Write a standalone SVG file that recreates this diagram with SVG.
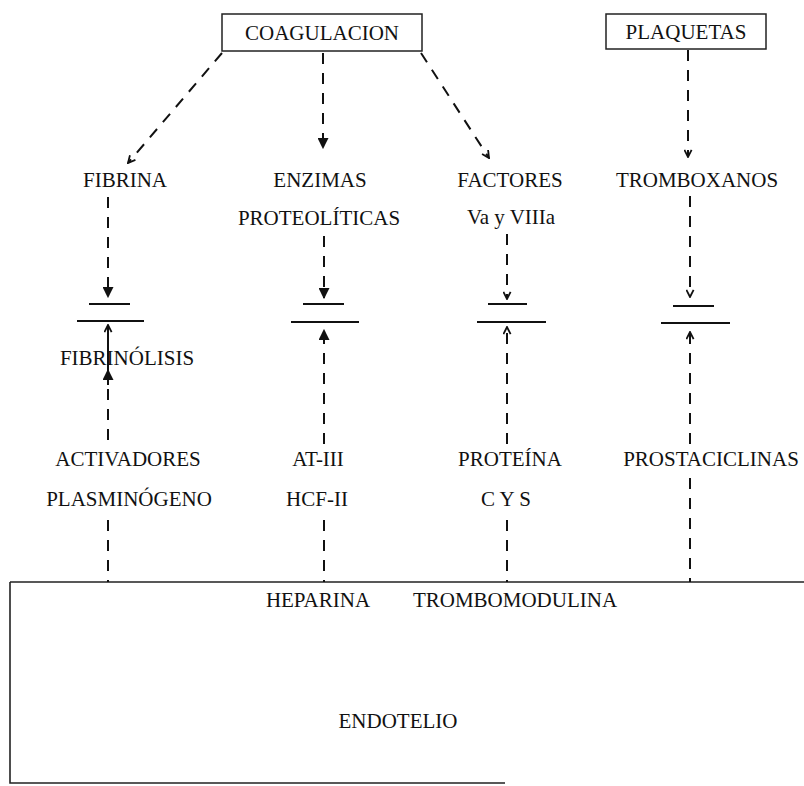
<svg xmlns="http://www.w3.org/2000/svg" width="804" height="786" viewBox="0 0 804 786">
<defs>
<style>
text{font-family:"Liberation Serif","Times New Roman",serif;font-size:21px;fill:#111;text-anchor:middle;}
.box{fill:none;stroke:#222;stroke-width:1.5;}
.dash{fill:none;stroke:#111;stroke-width:2;stroke-dasharray:11 9;}
.solid{fill:none;stroke:#111;stroke-width:2;}
.bar{fill:none;stroke:#111;stroke-width:2.2;}
.edge{fill:none;stroke:#222;stroke-width:1.6;}
</style>
<marker id="open" viewBox="0 0 10 10" refX="9" refY="5" markerWidth="9" markerHeight="9" markerUnits="userSpaceOnUse" orient="auto">
<polyline points="1,1 9,5 1,9" fill="none" stroke="#111" stroke-width="2"/>
</marker>
<marker id="fill" viewBox="0 0 10 10" refX="9" refY="5" markerWidth="11" markerHeight="11" markerUnits="userSpaceOnUse" orient="auto">
<path d="M0,0 L10,5 L0,10 z" fill="#111"/>
</marker>
</defs>
<rect width="804" height="786" fill="#fff"/>

<g id="coagulacion"><rect class="box" x="222" y="14" width="200" height="37"/><text x="322" y="40">COAGULACION</text></g>
<g id="plaquetas"><rect class="box" x="606" y="14" width="160" height="35"/><text x="686" y="39">PLAQUETAS</text></g>

<g id="fibrina"><text x="125" y="187">FIBRINA</text></g>
<g id="enzimas"><text x="320" y="187">ENZIMAS</text><text x="319" y="225">PROTEOLÍTICAS</text></g>
<g id="factores"><text x="510" y="187">FACTORES</text><text x="511" y="224">Va y VIIIa</text></g>
<g id="tromboxanos"><text x="697" y="187">TROMBOXANOS</text></g>

<g id="fibrinolisis"><text x="127" y="365">FIBRINÓLISIS</text></g>

<g id="activadores"><text x="128" y="466">ACTIVADORES</text><text x="129" y="506">PLASMINÓGENO</text></g>
<g id="at3"><text x="318" y="466">AT-III</text><text x="317" y="506">HCF-II</text></g>
<g id="proteina"><text x="510" y="466">PROTEÍNA</text><text x="506" y="506">C Y S</text></g>
<g id="prostaciclinas"><text x="711" y="466">PROSTACICLINAS</text></g>

<g id="endotelio">
<path class="edge" d="M10,582 L804,582 M10,582 L10,783 L505,783"/>
<text x="318" y="607">HEPARINA</text>
<text x="515" y="607">TROMBOMODULINA</text>
<text x="398" y="728">ENDOTELIO</text>
</g>

<g id="inhibitions">
<path class="bar" d="M89,304 H130 M77,321 H144"/>
<path class="bar" d="M303,304 H344 M291,322 H359"/>
<path class="bar" d="M488,304 H527 M477,322 H546"/>
<path class="bar" d="M673,306 H714 M661,323 H730"/>
</g>

<g id="connectors">
<line class="dash" x1="222" y1="53" x2="128" y2="163" marker-end="url(#open)"/>
<line class="dash" x1="323" y1="53" x2="323" y2="148" marker-end="url(#fill)"/>
<line class="dash" x1="421" y1="53" x2="489" y2="158" marker-end="url(#open)"/>
<line class="dash" x1="688" y1="50" x2="688" y2="157" marker-end="url(#open)"/>

<line class="dash" x1="108" y1="197" x2="108" y2="297" marker-end="url(#fill)"/>
<line class="dash" x1="324" y1="236" x2="324" y2="298" marker-end="url(#fill)"/>
<line class="dash" x1="507" y1="234" x2="507" y2="299" marker-end="url(#open)"/>
<line class="dash" x1="690" y1="196" x2="690" y2="297" marker-end="url(#open)"/>

<line class="dash" x1="108" y1="440" x2="108" y2="385"/>
<line class="solid" x1="108" y1="385" x2="108" y2="370" marker-end="url(#fill)"/>
<line class="solid" x1="108" y1="370" x2="108" y2="325" marker-end="url(#open)"/>
<line class="dash" x1="324" y1="444" x2="324" y2="330" marker-end="url(#fill)"/>
<line class="dash" x1="507" y1="444" x2="507" y2="327" marker-end="url(#open)"/>
<line class="dash" x1="690" y1="444" x2="690" y2="332" marker-end="url(#open)"/>

<line class="dash" x1="108" y1="520" x2="108" y2="582"/>
<line class="dash" x1="324" y1="520" x2="324" y2="582"/>
<line class="dash" x1="507" y1="520" x2="507" y2="582"/>
<line class="dash" x1="690" y1="478" x2="690" y2="582"/>
</g>
</svg>
